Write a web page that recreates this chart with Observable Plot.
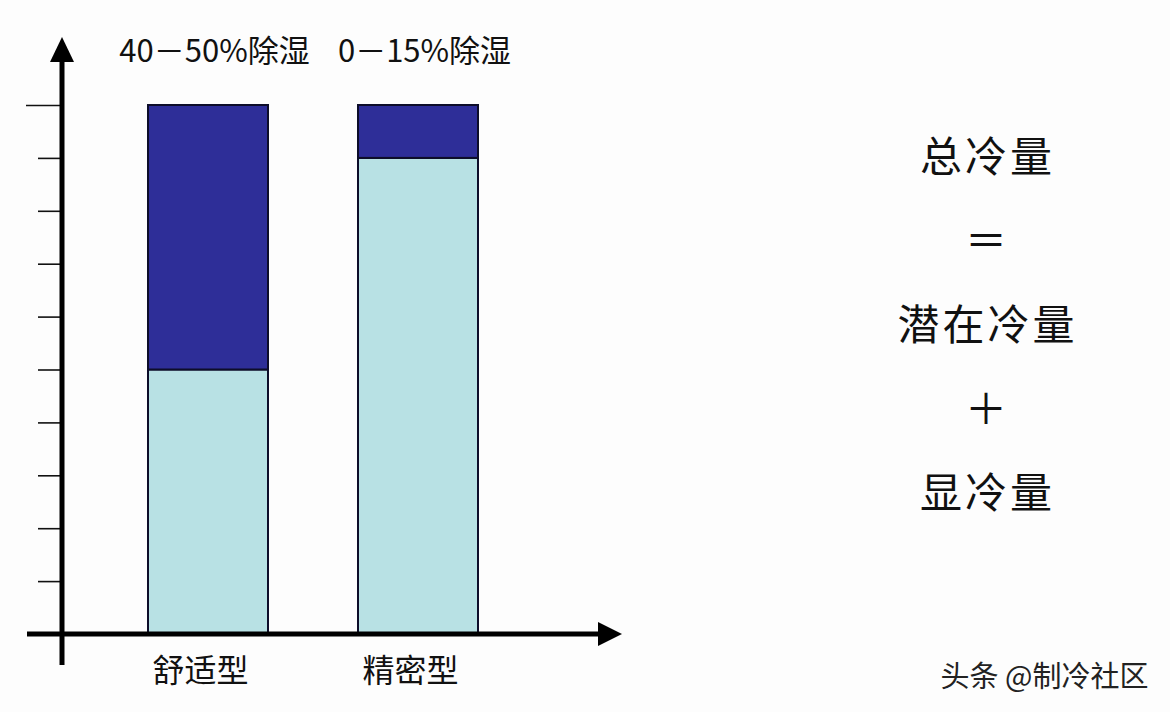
<!DOCTYPE html>
<html>
<head>
<meta charset="utf-8">
<script src="https://cdn.jsdelivr.net/npm/d3@7"></script>
<script src="https://cdn.jsdelivr.net/npm/@observablehq/plot@0.6"></script>
<style>
  html, body { margin: 0; padding: 0; background: #fdfdfd; }
  svg { display: block; }
</style>
</head>
<body>
<div id="chart"></div>
<script>
// ---- data ----
const categories = ["舒适型", "精密型"];
const sensibleLoad = [5, 9];   // 显冷量 (light, bottom)
const latentLoad = [5, 1];     // 潜在冷量 (dark, top)
const topLabels = ["40－50%除湿", "0－15%除湿"];
const yTicks = [1, 2, 3, 4, 5, 6, 7, 8, 9];
const yTopTick = [10];
const partNames = ["显冷量", "潜在冷量"];
const formulaText = "总冷量\n＝\n潜在冷量\n＋\n显冷量";
const watermark = "头条 @制冷社区";

// ---- tables built from arrays ----
const rows = [];
categories.forEach((c, i) => {
  rows.push({cat: c, part: partNames[0], value: sensibleLoad[i]});
  rows.push({cat: c, part: partNames[1], value: latentLoad[i]});
});
const totals = categories.map((c, i) => ({cat: c, total: sensibleLoad[i] + latentLoad[i], label: topLabels[i]}));

const font = "'Noto Sans CJK SC', 'Noto Sans', sans-serif";

const plot = Plot.plot({
  width: 1170,
  height: 712,
  marginLeft: 62,
  marginRight: 548,
  marginTop: 105,
  marginBottom: 78,
  style: {background: "#fdfdfd", fontFamily: font, color: "#111"},
  x: {domain: categories, paddingInner: 0.4286, paddingOuter: 0.5476, align: 0.3739, axis: null},
  y: {domain: [0, 10], axis: null},
  color: {domain: partNames, range: ["#b8e1e4", "#2e2e98"]},
  marks: [
    Plot.barY(rows, {x: "cat", y: "value", fill: "part", stroke: "#0d0d2a", strokeWidth: 2, order: partNames}),
    Plot.axisY(yTicks, {anchor: "left", tickSize: 24, tickFormat: () => "", stroke: "#111", strokeWidth: 1.6, label: null}),
    Plot.axisY(yTopTick, {anchor: "left", tickSize: 36, tickFormat: () => "", stroke: "#111", strokeWidth: 1.6, label: null}),
    Plot.axisX({tickSize: 0, tickPadding: 25, fontSize: 32, dx: -8, fill: "#111", label: null}),
    Plot.text(totals, {x: "cat", y: "total", text: "label", dy: -53, dx: 6, fontSize: 31, fill: "#111", lineAnchor: "middle"}),
    Plot.text([formulaText], {frameAnchor: "right", dx: 365, dy: -57, fontSize: 42, lineHeight: 2.0, textAnchor: "middle", lineAnchor: "middle", fill: "#111", className: "formula"}),
    Plot.text([watermark], {frameAnchor: "bottom-right", dx: 526, dy: 43, fontSize: 29, textAnchor: "end", lineAnchor: "middle", fill: "#222"})
  ]
});

// axis lines with filled arrowheads, positioned from the plot's own scales
const xs = plot.scale("x"), ys = plot.scale("y");
const x0 = xs.range[0], x1 = xs.range[1];
const y0 = ys.apply(0), yTop = ys.apply(10);
const svg = d3.select(plot);
svg.selectAll(".formula text").attr("letter-spacing", 3);
const g = svg.append("g").attr("fill", "#000").attr("stroke", "#000");
g.append("line").attr("x1", x0).attr("x2", x0).attr("y1", y0 + 31).attr("y2", yTop - 44).attr("stroke-width", 5);
g.append("polygon").attr("stroke", "none").attr("points", `${x0},${yTop - 68} ${x0 - 12},${yTop - 43} ${x0 + 12},${yTop - 43}`);
g.append("line").attr("x1", x0 - 35).attr("x2", x1 - 20).attr("y1", y0).attr("y2", y0).attr("stroke-width", 5);
g.append("polygon").attr("stroke", "none").attr("points", `${x1},${y0} ${x1 - 24},${y0 - 12} ${x1 - 24},${y0 + 12}`);

document.getElementById("chart").appendChild(plot);
</script>
</body>
</html>
